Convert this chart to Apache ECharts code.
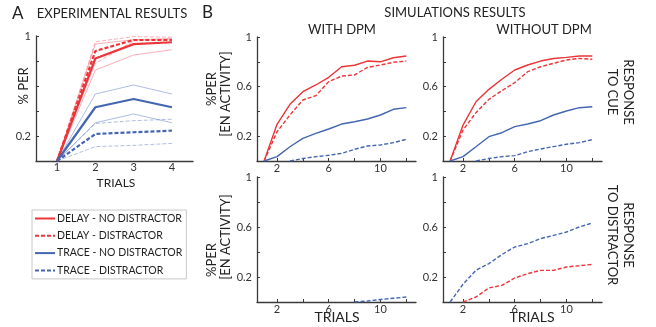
<!DOCTYPE html>
<html>
<head>
<meta charset="utf-8">
<script src="https://cdn.jsdelivr.net/npm/echarts@6/dist/echarts.min.js"></script>
<style>
html,body{margin:0;padding:0;background:#fff;}
#c{width:656px;height:327px;}
</style>
</head>
<body>
<div id="c"></div>
<script>
// ---------- Panel A: experimental results ----------
const trialsA = [1, 2, 3, 4];
const delayNoDistA = [0, 0.82, 0.935, 0.95];
const delayDistA = [0, 0.88, 0.968, 0.968];
const traceNoDistA = [0, 0.43, 0.496, 0.43];
const traceDistA = [0, 0.216, 0.23, 0.243];
// individual subjects (thin lines)
const delayNoDistSubj1 = [0, 0.728, 0.848, 0.89];
const delayNoDistSubj2 = [0, 0.936, 0.97, 0.98];
const delayDistSubj1 = [0, 0.954, 0.995, 0.99];
const delayDistSubj2 = [0, 0.78, 0.96, 0.975];
const traceNoDistSubj1 = [0, 0.536, 0.608, 0.536];
const traceNoDistSubj2 = [0, 0.306, 0.376, 0.306];
const traceDistSubj1 = [0, 0.30, 0.323, 0.334];
const traceDistSubj2 = [0, 0.115, 0.125, 0.141];

// ---------- Panel B: simulations ----------
const trialsB = [1, 2, 3, 4, 5, 6, 7, 8, 9, 10, 11, 12];
// with DPM, response to cue
const withDelayNoDist = [0, 0.296, 0.457, 0.559, 0.613, 0.675, 0.76, 0.772, 0.806, 0.80, 0.833, 0.847];
const withDelayDist = [0, 0.236, 0.371, 0.492, 0.527, 0.64, 0.685, 0.694, 0.755, 0.774, 0.796, 0.806];
const withTraceNoDist = [0, 0.035, 0.115, 0.183, 0.223, 0.258, 0.298, 0.317, 0.339, 0.371, 0.417, 0.43];
const withTraceDist = [null, null, 0, 0.02, 0.035, 0.046, 0.062, 0.094, 0.121, 0.129, 0.148, 0.175];
// without DPM, response to cue
const woDelayNoDist = [0, 0.29, 0.478, 0.578, 0.659, 0.734, 0.774, 0.806, 0.827, 0.836, 0.847, 0.847];
const woDelayDist = [0, 0.25, 0.39, 0.497, 0.567, 0.632, 0.72, 0.76, 0.788, 0.815, 0.827, 0.82];
const woTraceNoDist = [0, 0.035, 0.115, 0.196, 0.228, 0.277, 0.298, 0.325, 0.371, 0.403, 0.43, 0.438];
const woTraceDist = [null, null, 0, 0.02, 0.035, 0.043, 0.075, 0.097, 0.116, 0.135, 0.148, 0.172];
// with DPM, response to distractor
const withTraceDistResp = [null, null, null, null, null, null, null, 0, 0.008, 0.02, 0.03, 0.04];
// without DPM, response to distractor
const woDelayDistResp = [null, 0, 0.04, 0.112, 0.133, 0.192, 0.227, 0.253, 0.253, 0.28, 0.29, 0.301];
const woTraceDistResp = [0, 0.142, 0.254, 0.307, 0.379, 0.44, 0.467, 0.507, 0.533, 0.56, 0.6, 0.632];

const legendNames = ['DELAY - NO DISTRACTOR', 'DELAY - DISTRACTOR', 'TRACE - NO DISTRACTOR', 'TRACE - DISTRACTOR'];
const aYLabels = [0.2, 1];
const bYLabels = [0.2, 0.6, 1];
const aXLabels = [1, 2, 3, 4];
const bXLabels = [2, 6, 10];
const bXTicks = [2, 4, 6, 8, 10, 12];

const RED = '#ec3439';
const BLUE = '#4466b0';
const LRED = 'rgba(240,110,120,0.55)';
const LBLUE = 'rgba(120,145,205,0.6)';
const FONT = 'Lato';
const AX = '#3a3a3a';

function pairs(xs, ys) { return xs.map((x, i) => [x, ys[i]]); }

function line(name, xi, xs, ys, color, width, dashed, z) {
  return {
    name: name, type: 'line', xAxisIndex: xi, yAxisIndex: xi,
    data: pairs(xs, ys), symbol: 'none', connectNulls: false, silent: true,
    lineStyle: { color: color, width: width, type: dashed ? [4, 2] : 'solid' },
    itemStyle: { color: color }, z: z || 2, animation: false
  };
}

const grids = [
  { left: 36, right: 463, top: 36, bottom: 166 },
  { left: 257, right: 240, top: 37, bottom: 166 },
  { left: 443, right: 54, top: 37, bottom: 166 },
  { left: 257, right: 240, top: 177, bottom: 25 },
  { left: 443, right: 54, top: 177, bottom: 25 }
];

function xAxis(i) {
  const isA = i === 0;
  return {
    gridIndex: i, type: 'value',
    min: 0.45, max: isA ? 4.55 : 12.75,
    splitLine: { show: false },
    axisLine: { show: true, lineStyle: { color: AX, width: 1.3 } },
    axisTick: { show: !isA, inside: true, length: 3, customValues: bXTicks, lineStyle: { color: AX } },
    axisLabel: { show: true, customValues: isA ? aXLabels : bXLabels, color: '#333', fontFamily: FONT, fontSize: 11, margin: isA ? 1 : 2 }
  };
}
function yAxis(i) {
  const labs = i === 0 ? aYLabels : bYLabels;
  return {
    gridIndex: i, type: 'value', min: 0, max: 1, interval: 0.2,
    splitLine: { show: false },
    axisLine: { show: true, onZero: false, lineStyle: { color: AX, width: 1.3 } },
    axisTick: { show: true, inside: true, length: 3, lineStyle: { color: AX } },
    axisLabel: {
      color: '#333', fontFamily: FONT, fontSize: 11, margin: 5,
      formatter: function (v) {
        const r = Math.round(v * 10) / 10;
        return labs.indexOf(r) >= 0 ? String(r) : '';
      }
    }
  };
}

const series = [
  // Panel A thin lines
  line('s1', 0, trialsA, delayNoDistSubj1, LRED, 1, false, 1),
  line('s2', 0, trialsA, delayNoDistSubj2, LRED, 1, false, 1),
  line('s3', 0, trialsA, delayDistSubj1, LRED, 1, true, 1),
  line('s4', 0, trialsA, delayDistSubj2, LRED, 1, true, 1),
  line('s5', 0, trialsA, traceNoDistSubj1, LBLUE, 1, false, 1),
  line('s6', 0, trialsA, traceNoDistSubj2, LBLUE, 1, false, 1),
  line('s7', 0, trialsA, traceDistSubj1, LBLUE, 1, true, 1),
  line('s8', 0, trialsA, traceDistSubj2, LBLUE, 1, true, 1),
  // Panel A means (legend series)
  line(legendNames[0], 0, trialsA, delayNoDistA, RED, 2.2, false, 3),
  line(legendNames[1], 0, trialsA, delayDistA, RED, 2.2, true, 3),
  line(legendNames[2], 0, trialsA, traceNoDistA, BLUE, 2.2, false, 3),
  line(legendNames[3], 0, trialsA, traceDistA, BLUE, 2.2, true, 3),
  // B top-left
  line('b1', 1, trialsB, withDelayNoDist, RED, 1.4, false),
  line('b2', 1, trialsB, withDelayDist, RED, 1.4, true),
  line('b3', 1, trialsB, withTraceNoDist, BLUE, 1.4, false),
  line('b4', 1, trialsB, withTraceDist, BLUE, 1.4, true),
  // B top-right
  line('c1', 2, trialsB, woDelayNoDist, RED, 1.4, false),
  line('c2', 2, trialsB, woDelayDist, RED, 1.4, true),
  line('c3', 2, trialsB, woTraceNoDist, BLUE, 1.4, false),
  line('c4', 2, trialsB, woTraceDist, BLUE, 1.4, true),
  // B bottom-left
  line('d1', 3, trialsB, withTraceDistResp, BLUE, 1.4, true),
  // B bottom-right
  line('e1', 4, trialsB, woTraceDistResp, BLUE, 1.4, true),
  line('e2', 4, trialsB, woDelayDistResp, RED, 1.4, true)
];

function txt(x, y, text, size, opts) {
  opts = opts || {};
  return {
    type: 'text', x: x, y: y, rotation: opts.rot || 0, silent: true,
    style: {
      text: text, fill: opts.color || '#222', font: (opts.weight || 'normal') + ' ' + size + 'px ' + FONT,
      align: opts.align || 'center', verticalAlign: 'middle', lineHeight: opts.lh || size + 3
    }
  };
}

const graphics = [
  txt(12, 14, 'A', 17, { align: 'left' }),
  txt(112, 14, 'EXPERIMENTAL RESULTS', 13),
  txt(202, 13, 'B', 17, { align: 'left' }),
  txt(455, 13, 'SIMULATIONS RESULTS', 13),
  txt(342, 30, 'WITH DPM', 13),
  txt(544, 30, 'WITHOUT DPM', 13),
  txt(24, 86, '% PER', 13, { rot: Math.PI / 2 }),
  txt(212, 89, '%PER', 13, { rot: Math.PI / 2 }),
  txt(226, 94, '[EN ACTIVITY]', 13, { rot: Math.PI / 2 }),
  txt(212, 260, '%PER', 13, { rot: Math.PI / 2 }),
  txt(226, 237, '[EN ACTIVITY]', 13, { rot: Math.PI / 2 }),
  txt(116, 183, 'TRIALS', 12),
  txt(337, 317, 'TRIALS', 14),
  txt(532, 317, 'TRIALS', 14),
  txt(620, 92, 'RESPONSE\nTO CUE', 13, { rot: -Math.PI / 2, lh: 16 }),
  txt(620, 235, 'RESPONSE\nTO DISTRACTOR', 13, { rot: -Math.PI / 2, lh: 16 })
];

const chart = echarts.init(document.getElementById('c'), null, { renderer: 'canvas' });
chart.setOption({
  animation: false,
  backgroundColor: '#fff',
  grid: grids,
  xAxis: grids.map((g, i) => xAxis(i)),
  yAxis: grids.map((g, i) => yAxis(i)),
  legend: {
    data: legendNames, orient: 'vertical', left: 32, top: 210,
    padding: [3, 4, 3, 2], itemGap: 6.3, itemWidth: 20, itemHeight: 12,
    borderColor: '#c8c8c8', borderWidth: 1, selectedMode: false,
    itemStyle: { opacity: 0 },
    textStyle: { fontFamily: FONT, fontSize: 10.5, color: '#1e1e1e', padding: [0, 0, 0, -3] }
  },
  series: series,
  graphic: graphics
});
</script>
</body>
</html>
